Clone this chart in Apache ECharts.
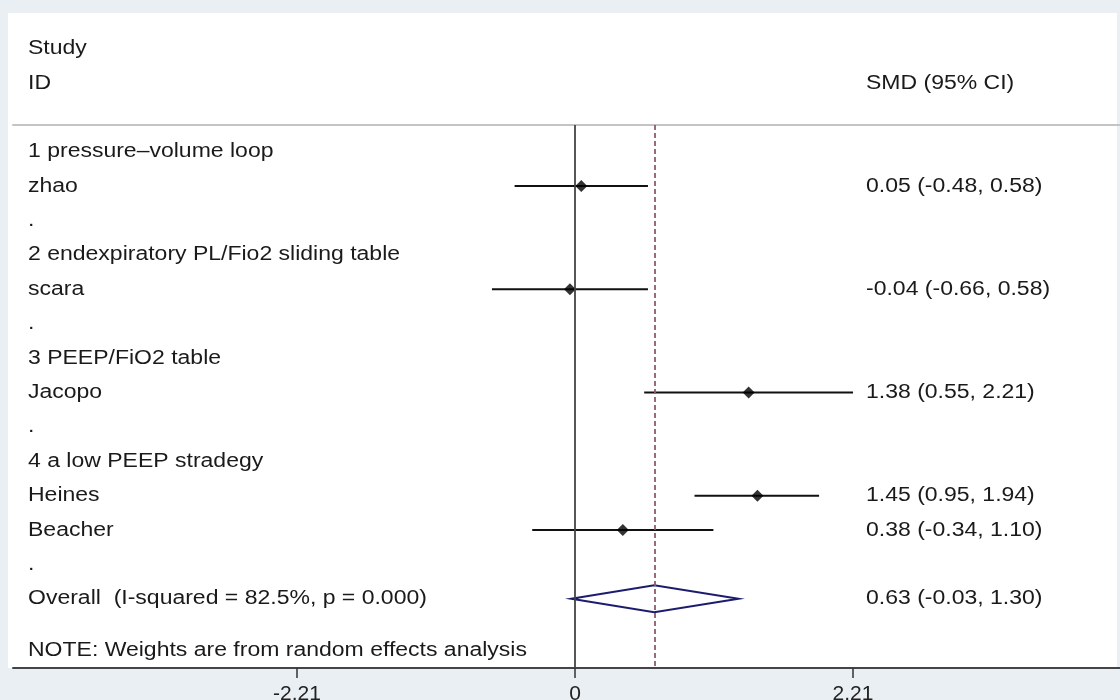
<!DOCTYPE html>
<html>
<head>
<meta charset="utf-8">
<script src="https://cdn.jsdelivr.net/npm/echarts@6/dist/echarts.min.js"></script>
<style>
  html, body { margin: 0; padding: 0; background: #e9eff2; }
  #chart { width: 1120px; height: 700px; }
</style>
</head>
<body>
<div id="chart"></div>
<script>
// ---------- data ----------
const rowLabels = [
  '1 pressure\u2013volume loop',
  'zhao',
  '.',
  '2 endexpiratory PL/Fio2 sliding table',
  'scara',
  '.',
  '3 PEEP/FiO2 table',
  'Jacopo',
  '.',
  '4 a low PEEP stradegy',
  'Heines',
  'Beacher',
  '.',
  'Overall  (I-squared = 82.5%, p = 0.000)'
];
const studyNames = ['zhao', 'scara', 'Jacopo', 'Heines', 'Beacher'];
const studyRows = [1, 4, 7, 10, 11];
const studySMD = [0.05, -0.04, 1.38, 1.45, 0.38];
const studyLow = [-0.48, -0.66, 0.55, 0.95, -0.34];
const studyHigh = [0.58, 0.58, 2.21, 1.94, 1.10];
const overallRow = 13;
const overallSMD = 0.63;
const overallLow = -0.03;
const overallHigh = 1.30;
const noteText = 'NOTE: Weights are from random effects analysis';
const noteRow = 14.5;
const tickValues = [-2.21, 0, 2.21];
const tickLabels = ['-2.21', '0', '2.21'];
const headerLeft = ['Study', 'ID'];
const headerRight = 'SMD (95% CI)';

// ---------- style / layout ----------
const FONT = '20px "Liberation Sans", Arial, sans-serif';
const SX = 1.15;
const TEXT_COLOR = '#1a1a1a';
const LEFT_TEXT_X = 28;
const RIGHT_TEXT_X = 866;
const X_MIN = -4.467, X_MAX = 4.332;
const Y_MIN = -0.773, Y_MAX = 15.01;

const fmt = v => v.toFixed(2);
const rightTexts = studySMD.map((v, i) => ({
  row: studyRows[i],
  text: fmt(v) + ' (' + fmt(studyLow[i]) + ', ' + fmt(studyHigh[i]) + ')'
}));
rightTexts.push({ row: overallRow,
  text: fmt(overallSMD) + ' (' + fmt(overallLow) + ', ' + fmt(overallHigh) + ')' });

const leftItems = rowLabels.map((t, i) => ({ row: i, text: t }));
leftItems.push({ row: noteRow, text: noteText });

function textEl(x, y, text) {
  return {
    type: 'text', x: x, y: y, scaleX: SX,
    style: { text: text, font: FONT, fill: TEXT_COLOR, align: 'left', verticalAlign: 'middle' }
  };
}

const chart = echarts.init(document.getElementById('chart'), null, { renderer: 'canvas' });

chart.setOption({
  animation: false,
  backgroundColor: '#e9eff2',
  graphic: [
    { type: 'rect', left: 8, top: 13, z: -10,
      shape: { width: 1109, height: 655 }, style: { fill: '#ffffff' } },
    textEl(LEFT_TEXT_X, 48, headerLeft[0]),
    textEl(LEFT_TEXT_X, 83, headerLeft[1]),
    textEl(RIGHT_TEXT_X, 83, headerRight)
  ],
  grid: { left: 13, right: 0, top: 125, bottom: 32, containLabel: false, outerBoundsMode: 'none' },
  xAxis: [
    {
      type: 'value', position: 'bottom', min: X_MIN, max: X_MAX,
      splitLine: { show: false },
      axisLine: { show: true, onZero: false, lineStyle: { color: '#444', width: 2 } },
      axisTick: { show: true, customValues: tickValues, length: 10,
                  lineStyle: { color: '#333', width: 1.5 } },
      axisLabel: {
        show: true, customValues: tickValues, margin: 16,
        formatter: v => tickLabels[tickValues.indexOf(v)] !== undefined ? tickLabels[tickValues.indexOf(v)] : String(v),
        fontFamily: '"Liberation Sans", Arial, sans-serif', fontSize: 21, color: '#222'
      }
    },
    {
      type: 'value', position: 'top', min: X_MIN, max: X_MAX,
      splitLine: { show: false },
      axisLine: { show: true, onZero: false, lineStyle: { color: '#c4c4c4', width: 2 } },
      axisTick: { show: false }, axisLabel: { show: false }
    }
  ],
  yAxis: {
    type: 'value', inverse: true, min: Y_MIN, max: Y_MAX, show: false
  },
  series: [
    // reference lines
    {
      type: 'line', data: [], silent: true,
      markLine: {
        silent: true, symbol: 'none', label: { show: false },
        data: [
          { xAxis: 0, lineStyle: { color: '#444', width: 1.8, type: 'solid' } },
          { xAxis: overallSMD, lineStyle: { color: '#8e5b6e', width: 1.8, type: [5, 3] } }
        ]
      }
    },
    // confidence intervals
    {
      type: 'custom', silent: true, z: 3,
      data: studySMD.map((v, i) => [studyLow[i], studyRows[i], studyHigh[i]]),
      renderItem: (params, api) => {
        const p1 = api.coord([api.value(0), api.value(1)]);
        const p2 = api.coord([api.value(2), api.value(1)]);
        return { type: 'line', shape: { x1: p1[0], y1: p1[1], x2: p2[0], y2: p2[1] },
                 style: { stroke: '#111', lineWidth: 2 } };
      }
    },
    // point estimates
    {
      type: 'scatter', silent: true, z: 4,
      symbol: 'diamond', symbolSize: 12,
      itemStyle: { color: '#000' },
      data: studySMD.map((v, i) => [v, studyRows[i]])
    },
    // overall diamond
    {
      type: 'custom', silent: true, z: 4,
      data: [[overallSMD, overallRow, overallLow, overallHigh]],
      renderItem: (params, api) => {
        const c = api.coord([api.value(0), api.value(1)]);
        const l = api.coord([api.value(2), api.value(1)]);
        const r = api.coord([api.value(3), api.value(1)]);
        const h = 13.5;
        return { type: 'polygon',
                 shape: { points: [[l[0], c[1]], [c[0], c[1] - h], [r[0], c[1]], [c[0], c[1] + h]] },
                 style: { fill: 'rgba(255,255,255,0)', stroke: '#1c1c6e', lineWidth: 2 } };
      }
    },
    // left column texts
    {
      type: 'custom', silent: true, z: 5,
      data: leftItems.map(d => [0, d.row]),
      renderItem: (params, api) => {
        const y = api.coord([0, api.value(1)])[1];
        return textEl(LEFT_TEXT_X, y, leftItems[params.dataIndex].text);
      }
    },
    // right column texts
    {
      type: 'custom', silent: true, z: 5,
      data: rightTexts.map(d => [0, d.row]),
      renderItem: (params, api) => {
        const y = api.coord([0, api.value(1)])[1];
        return textEl(RIGHT_TEXT_X, y, rightTexts[params.dataIndex].text);
      }
    }
  ]
});
</script>
</body>
</html>
